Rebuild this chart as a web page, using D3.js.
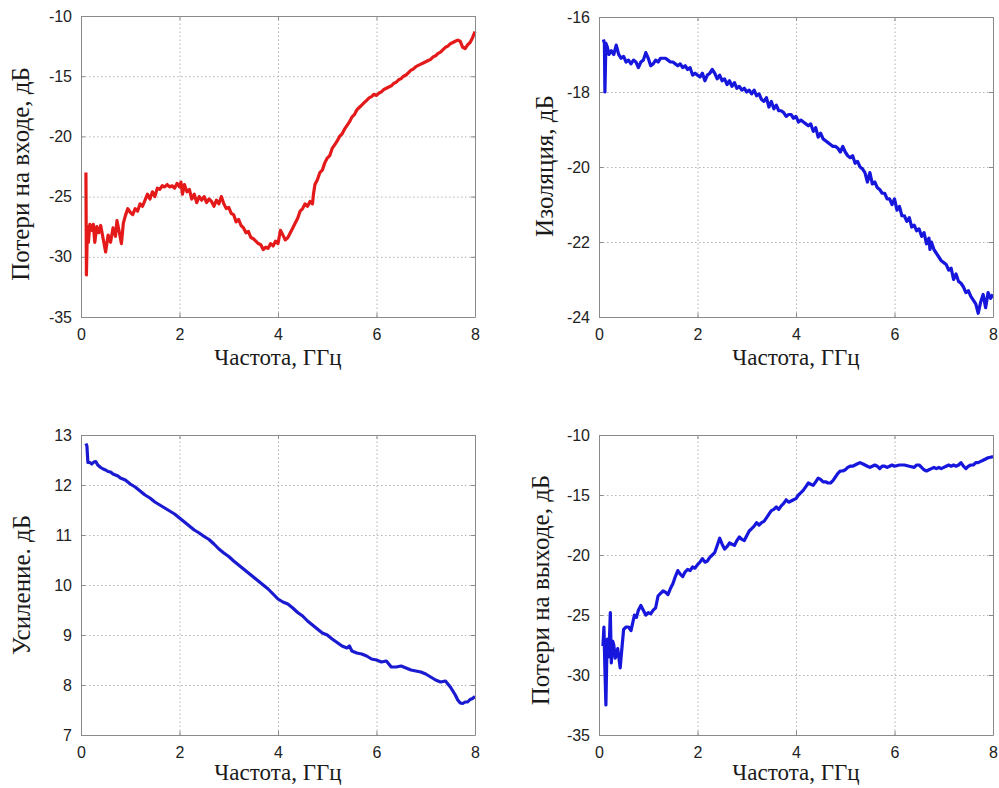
<!DOCTYPE html>
<html>
<head>
<meta charset="utf-8">
<script src="https://cdn.jsdelivr.net/npm/d3@7"></script>
<style>
body { margin: 0; background: #fff; }
.tick text { font-family: "Liberation Sans", Arial, sans-serif; font-size: 16px; fill: #222; }
.grid line { stroke: #b4b4b4; stroke-dasharray: 1.5,2.5; }
.grid path { display: none; }
.axlabel { font-family: "Liberation Serif", "Times New Roman", serif; fill: #1a1a1a; }
</style>
</head>
<body>
<div id="target"></div>
<script>
var width = 999,
    height = 788;

var xTicks = [0, 2, 4, 6, 8];
var xLabel = "Частота, ГГц";

// [частота, дБ]
var inputLoss = [
  [0.10,-23.0],[0.11,-31.5],[0.13,-27.5],[0.15,-28.8],[0.18,-27.3],[0.22,-27.8],[0.25,-27.3],[0.28,-28.8],
  [0.32,-27.5],[0.36,-28.0],[0.40,-27.4],[0.45,-28.5],[0.50,-29.6],[0.55,-28.2],[0.60,-28.8],[0.65,-27.6],
  [0.70,-28.3],[0.73,-27.0],[0.78,-28.0],[0.82,-28.9],[0.86,-27.2],[0.90,-26.6],[0.95,-26.0],[1.00,-26.3],
  [1.05,-26.5],[1.10,-26.0],[1.15,-26.2],[1.20,-25.6],[1.25,-25.8],[1.30,-25.3],[1.35,-24.8],[1.40,-25.2],
  [1.45,-24.6],[1.50,-25.0],[1.55,-24.3],[1.60,-24.4],[1.65,-24.1],[1.70,-24.2],[1.75,-24.0],[1.80,-24.2],
  [1.85,-24.1],[1.90,-24.3],[1.95,-23.9],[2.00,-24.2],[2.03,-23.8],[2.06,-24.8],[2.10,-24.0],[2.15,-24.6],
  [2.20,-24.4],[2.25,-25.2],[2.30,-24.8],[2.35,-25.5],[2.40,-25.0],[2.45,-25.3],[2.50,-25.0],[2.55,-25.5],
  [2.60,-25.2],[2.65,-25.4],[2.70,-25.8],[2.75,-25.3],[2.80,-25.6],[2.85,-25.0],[2.90,-25.6],[2.95,-26.0],
  [3.00,-25.9],[3.05,-26.4],[3.10,-26.5],[3.15,-27.1],[3.20,-26.9],[3.25,-27.4],[3.30,-27.6],[3.35,-28.0],
  [3.40,-27.9],[3.45,-28.4],[3.50,-28.5],[3.55,-28.7],[3.60,-28.9],[3.65,-29.0],[3.70,-29.4],[3.75,-29.2],
  [3.80,-29.3],[3.85,-28.9],[3.90,-29.1],[3.95,-28.7],[4.00,-28.9],[4.05,-27.8],[4.10,-28.2],[4.15,-28.6],
  [4.20,-28.4],[4.25,-28.0],[4.30,-27.6],[4.35,-27.2],[4.40,-26.8],[4.45,-26.2],[4.50,-26.0],[4.55,-25.6],
  [4.60,-25.8],[4.65,-25.4],[4.70,-25.6],[4.72,-24.8],[4.75,-24.0],[4.80,-23.6],[4.85,-23.0],[4.90,-22.8],
  [4.95,-22.2],[5.00,-21.8],[5.05,-21.6],[5.10,-21.0],[5.15,-20.7],[5.20,-20.4],[5.25,-20.0],[5.30,-19.8],
  [5.35,-19.4],[5.40,-19.1],[5.45,-18.8],[5.50,-18.4],[5.55,-18.2],[5.60,-17.8],[5.65,-17.6],[5.70,-17.4],
  [5.75,-17.2],[5.80,-17.0],[5.85,-16.8],[5.90,-16.7],[5.95,-16.5],[6.00,-16.6],[6.05,-16.4],[6.10,-16.3],
  [6.15,-16.1],[6.20,-16.0],[6.25,-15.9],[6.30,-15.8],[6.35,-15.6],[6.40,-15.5],[6.45,-15.3],[6.50,-15.2],
  [6.55,-15.0],[6.60,-14.9],[6.65,-14.7],[6.70,-14.5],[6.75,-14.4],[6.80,-14.2],[6.85,-14.1],[6.90,-14.0],
  [6.95,-13.9],[7.00,-13.8],[7.05,-13.7],[7.10,-13.6],[7.15,-13.4],[7.20,-13.3],[7.25,-13.1],[7.30,-13.0],
  [7.35,-12.8],[7.40,-12.6],[7.45,-12.5],[7.50,-12.3],[7.55,-12.2],[7.60,-12.1],[7.65,-12.0],[7.70,-12.1],
  [7.75,-12.6],[7.80,-12.7],[7.85,-12.4],[7.90,-12.2],[7.95,-11.8],[8.00,-11.3]
];

var isolation = [
  [0.09,-16.6],[0.11,-16.7],[0.12,-18.0],[0.14,-16.7],[0.17,-16.8],[0.20,-17.0],[0.25,-16.9],[0.30,-17.0],
  [0.35,-16.75],[0.40,-17.0],[0.45,-17.1],[0.50,-17.05],[0.55,-17.2],[0.60,-17.15],[0.65,-17.25],[0.70,-17.15],
  [0.75,-17.2],[0.80,-17.35],[0.85,-17.2],[0.90,-17.15],[0.95,-16.95],[1.00,-17.1],[1.05,-17.3],[1.10,-17.25],
  [1.15,-17.15],[1.20,-17.2],[1.25,-17.1],[1.30,-17.1],[1.35,-17.1],[1.40,-17.15],[1.45,-17.2],[1.50,-17.2],
  [1.55,-17.25],[1.60,-17.3],[1.65,-17.25],[1.70,-17.35],[1.75,-17.3],[1.80,-17.4],[1.85,-17.35],[1.90,-17.55],
  [1.95,-17.5],[2.00,-17.55],[2.05,-17.6],[2.10,-17.5],[2.15,-17.7],[2.20,-17.55],[2.25,-17.5],[2.30,-17.4],
  [2.35,-17.5],[2.40,-17.65],[2.45,-17.55],[2.50,-17.7],[2.55,-17.65],[2.60,-17.8],[2.65,-17.7],[2.70,-17.85],
  [2.75,-17.75],[2.80,-17.9],[2.85,-17.85],[2.90,-17.95],[2.95,-17.9],[3.00,-18.0],[3.05,-17.95],[3.10,-18.05],
  [3.15,-17.95],[3.20,-18.1],[3.25,-18.05],[3.30,-18.2],[3.35,-18.25],[3.40,-18.15],[3.45,-18.4],[3.50,-18.25],
  [3.55,-18.45],[3.60,-18.35],[3.65,-18.5],[3.70,-18.5],[3.75,-18.55],[3.80,-18.65],[3.85,-18.6],[3.90,-18.6],
  [3.95,-18.7],[4.00,-18.65],[4.05,-18.8],[4.10,-18.75],[4.15,-18.8],[4.20,-18.85],[4.25,-18.9],[4.30,-18.85],
  [4.35,-19.05],[4.40,-18.95],[4.45,-19.2],[4.50,-19.1],[4.55,-19.25],[4.60,-19.3],[4.65,-19.35],[4.70,-19.4],
  [4.75,-19.45],[4.80,-19.45],[4.85,-19.5],[4.90,-19.6],[4.95,-19.45],[5.00,-19.6],[5.05,-19.7],[5.10,-19.75],
  [5.15,-19.7],[5.20,-19.9],[5.25,-19.85],[5.30,-20.0],[5.35,-20.05],[5.40,-20.15],[5.45,-20.4],[5.50,-20.15],
  [5.55,-20.45],[5.60,-20.4],[5.65,-20.55],[5.70,-20.6],[5.75,-20.7],[5.80,-20.7],[5.85,-20.85],[5.90,-20.85],
  [5.95,-21.0],[6.00,-20.85],[6.05,-21.15],[6.10,-21.05],[6.15,-21.3],[6.20,-21.3],[6.25,-21.45],[6.30,-21.35],
  [6.35,-21.6],[6.40,-21.55],[6.45,-21.7],[6.50,-21.65],[6.55,-21.85],[6.60,-21.75],[6.65,-22.05],[6.70,-21.9],
  [6.72,-22.2],[6.75,-22.0],[6.80,-22.2],[6.85,-22.3],[6.90,-22.4],[6.95,-22.5],[7.00,-22.55],[7.05,-22.6],
  [7.10,-22.75],[7.15,-22.7],[7.20,-23.0],[7.25,-22.85],[7.30,-23.05],[7.35,-23.1],[7.40,-23.2],[7.45,-23.35],
  [7.50,-23.3],[7.55,-23.45],[7.60,-23.55],[7.65,-23.65],[7.70,-23.9],[7.75,-23.6],[7.80,-23.4],[7.85,-23.75],
  [7.90,-23.35],[7.95,-23.5],[8.00,-23.4]
];

var gain = [
  [0.10,12.83],[0.12,12.78],[0.14,12.45],[0.18,12.45],[0.22,12.42],[0.26,12.46],[0.30,12.47],[0.34,12.40],
  [0.40,12.35],[0.45,12.32],[0.50,12.30],[0.55,12.27],[0.60,12.26],[0.65,12.22],[0.70,12.20],[0.75,12.18],
  [0.80,12.14],[0.85,12.12],[0.90,12.10],[0.95,12.06],[1.00,12.02],[1.10,11.96],[1.20,11.88],[1.30,11.80],
  [1.40,11.74],[1.50,11.66],[1.60,11.60],[1.70,11.54],[1.80,11.48],[1.90,11.42],[2.00,11.34],[2.10,11.26],
  [2.20,11.18],[2.30,11.10],[2.40,11.04],[2.50,10.97],[2.60,10.91],[2.70,10.82],[2.80,10.72],[2.90,10.64],
  [3.00,10.57],[3.10,10.48],[3.20,10.40],[3.30,10.32],[3.40,10.24],[3.50,10.16],[3.60,10.08],[3.70,10.00],
  [3.80,9.92],[3.90,9.82],[4.00,9.72],[4.10,9.66],[4.20,9.62],[4.30,9.54],[4.40,9.45],[4.50,9.38],
  [4.60,9.28],[4.70,9.20],[4.80,9.12],[4.90,9.04],[5.00,9.00],[5.05,8.96],[5.10,8.92],[5.20,8.85],
  [5.30,8.78],[5.40,8.74],[5.45,8.78],[5.50,8.68],[5.60,8.64],[5.70,8.62],[5.80,8.58],[5.90,8.52],
  [6.00,8.50],[6.10,8.46],[6.20,8.48],[6.30,8.36],[6.40,8.36],[6.50,8.38],[6.60,8.34],[6.70,8.30],
  [6.80,8.28],[6.90,8.26],[7.00,8.22],[7.10,8.16],[7.20,8.10],[7.30,8.06],[7.40,8.08],[7.50,7.96],
  [7.60,7.80],[7.65,7.70],[7.70,7.64],[7.75,7.63],[7.80,7.66],[7.85,7.66],[7.90,7.71],[7.95,7.73],[8.00,7.77]
];

var outputLoss = [
  [0.08,-27.6],[0.10,-26.0],[0.12,-29.5],[0.14,-32.5],[0.16,-28.0],[0.17,-27.0],[0.20,-28.5],[0.23,-24.8],
  [0.25,-29.0],[0.28,-27.2],[0.30,-27.5],[0.33,-28.6],[0.35,-28.3],[0.38,-27.8],[0.43,-29.4],[0.46,-28.0],
  [0.50,-26.2],[0.55,-26.0],[0.60,-26.0],[0.65,-26.3],[0.72,-25.0],[0.76,-25.2],[0.80,-24.6],[0.85,-24.2],
  [0.90,-24.6],[0.95,-25.0],[1.00,-24.8],[1.05,-24.9],[1.10,-24.6],[1.15,-24.4],[1.20,-23.4],[1.25,-23.2],
  [1.30,-23.0],[1.35,-23.1],[1.40,-23.3],[1.45,-22.8],[1.50,-22.4],[1.55,-21.8],[1.60,-21.3],[1.65,-21.6],
  [1.70,-21.8],[1.75,-21.4],[1.80,-21.2],[1.85,-21.3],[1.90,-21.0],[1.95,-21.1],[2.00,-20.8],[2.05,-20.6],
  [2.10,-20.3],[2.15,-20.6],[2.20,-20.5],[2.25,-20.2],[2.30,-20.0],[2.35,-19.8],[2.40,-19.2],[2.45,-18.6],
  [2.50,-19.1],[2.55,-19.5],[2.60,-19.3],[2.65,-19.0],[2.70,-19.1],[2.75,-19.2],[2.80,-18.8],[2.85,-18.5],
  [2.90,-18.7],[2.95,-18.8],[3.00,-18.4],[3.05,-18.0],[3.10,-17.8],[3.15,-17.6],[3.20,-17.3],[3.25,-17.5],
  [3.30,-17.3],[3.35,-17.2],[3.40,-16.9],[3.45,-16.6],[3.50,-16.3],[3.55,-16.2],[3.60,-16.0],[3.65,-16.2],
  [3.70,-15.9],[3.75,-15.7],[3.80,-15.4],[3.85,-15.6],[3.90,-15.5],[3.95,-15.4],[4.00,-15.3],[4.05,-15.0],
  [4.10,-14.8],[4.15,-14.6],[4.20,-14.3],[4.25,-14.0],[4.30,-14.1],[4.35,-14.2],[4.40,-13.9],[4.45,-13.6],
  [4.50,-13.7],[4.55,-13.9],[4.60,-13.9],[4.65,-14.0],[4.70,-14.0],[4.75,-13.8],[4.80,-13.5],[4.85,-13.2],
  [4.90,-13.0],[4.95,-13.0],[5.00,-12.9],[5.05,-12.7],[5.10,-12.6],[5.15,-12.6],[5.20,-12.5],[5.25,-12.4],
  [5.30,-12.3],[5.35,-12.4],[5.40,-12.5],[5.45,-12.6],[5.50,-12.7],[5.55,-12.6],[5.60,-12.5],[5.65,-12.6],
  [5.70,-12.8],[5.75,-12.6],[5.80,-12.6],[5.85,-12.7],[5.90,-12.6],[5.95,-12.5],[6.00,-12.6],[6.10,-12.5],
  [6.20,-12.5],[6.30,-12.6],[6.40,-12.7],[6.45,-12.5],[6.50,-12.5],[6.55,-12.7],[6.60,-12.9],[6.65,-13.0],
  [6.70,-12.9],[6.75,-12.8],[6.80,-12.7],[6.85,-12.8],[6.90,-12.7],[6.95,-12.8],[7.00,-12.7],[7.05,-12.6],
  [7.10,-12.5],[7.15,-12.6],[7.20,-12.5],[7.25,-12.6],[7.30,-12.5],[7.35,-12.3],[7.40,-12.6],[7.45,-12.8],
  [7.50,-12.6],[7.55,-12.5],[7.60,-12.5],[7.65,-12.3],[7.70,-12.3],[7.75,-12.2],[7.80,-12.1],[7.85,-12.0],
  [7.90,-11.9],[7.95,-11.85],[8.00,-11.8]
];

var yTicks1 = [-35, -30, -25, -20, -15, -10];
var yTicks2 = [-24, -22, -20, -18, -16];
var yTicks3 = [7, 8, 9, 10, 11, 12, 13];
var yTicks4 = [-35, -30, -25, -20, -15, -10];

var panels = [
  {left: 81, top: 16, w: 394, h: 301, data: inputLoss, yDomain: [-35, -10], yTicks: yTicks1,
   color: '#e41a1a', yLabel: 'Потери на входе, дБ', yLabelX: 29, yLabelY: 174, xLabelDy: 48},
  {left: 599, top: 17, w: 394, h: 300, data: isolation, yDomain: [-24, -16], yTicks: yTicks2,
   color: '#1616dc', yLabel: 'Изоляция, дБ', yLabelX: 553, yLabelY: 166, xLabelDy: 48},
  {left: 81, top: 435, w: 394, h: 300, data: gain, yDomain: [7, 13], yTicks: yTicks3,
   color: '#1a1ad0', yLabel: 'Усиление. дБ', yLabelX: 30, yLabelY: 585, xLabelDy: 45},
  {left: 599, top: 435, w: 394, h: 300, data: outputLoss, yDomain: [-35, -10], yTicks: yTicks4,
   color: '#1616dc', yLabel: 'Потери на выходе, дБ', yLabelX: 549, yLabelY: 590, xLabelDy: 45}
];

var svg = d3.select('#target').append('svg')
    .attr('width', width)
    .attr('height', height);

// plain hyphen for minus, like the original
var fmt = function (d) { return String(d); };

panels.forEach(function (p) {
    var x = d3.scaleLinear().domain([0, 8]).range([0, p.w]);
    var y = d3.scaleLinear().domain(p.yDomain).range([p.h, 0]);

    var g = svg.append('g').attr('transform', 'translate(' + p.left + ',' + p.top + ')');

    // dotted grid
    g.append('g').attr('class', 'grid')
        .attr('transform', 'translate(0,' + p.h + ')')
        .call(d3.axisBottom(x).tickValues(xTicks).tickSize(-p.h).tickFormat(''));
    g.append('g').attr('class', 'grid')
        .call(d3.axisLeft(y).tickValues(p.yTicks).tickSize(-p.w).tickFormat(''));

    var line = d3.line()
        .x(function (d) { return x(d[0]); })
        .y(function (d) { return y(d[1]); });

    g.append('path')
        .datum(p.data)
        .attr('d', line)
        .attr('fill', 'none')
        .attr('stroke', p.color)
        .attr('stroke-width', 3.2)
        .attr('stroke-linejoin', 'round');

    // axes, matlab style: ticks inward on all sides
    var xb = g.append('g').attr('transform', 'translate(0,' + p.h + ')')
        .call(d3.axisBottom(x).tickValues(xTicks).tickFormat(fmt).tickSizeInner(-4).tickSizeOuter(0).tickPadding(12));
    var yl = g.append('g')
        .call(d3.axisLeft(y).tickValues(p.yTicks).tickFormat(fmt).tickSizeInner(-4).tickSizeOuter(0).tickPadding(9));
    var xt = g.append('g')
        .call(d3.axisTop(x).tickValues(xTicks).tickSizeInner(-4).tickSizeOuter(0).tickFormat(''));
    var yr = g.append('g').attr('transform', 'translate(' + p.w + ',0)')
        .call(d3.axisRight(y).tickValues(p.yTicks).tickSizeInner(-4).tickSizeOuter(0).tickFormat(''));
    [xb, yl, xt, yr].forEach(function (a) {
        a.selectAll('path').attr('stroke', '#8a8a8a');
        a.selectAll('line').attr('stroke', '#8a8a8a');
    });

    g.append('text')
        .attr('class', 'axlabel')
        .attr('x', p.w / 2)
        .attr('y', p.h + p.xLabelDy)
        .attr('text-anchor', 'middle')
        .style('font-size', '23px')
        .text(xLabel);

    svg.append('text')
        .attr('class', 'axlabel')
        .attr('transform', 'translate(' + p.yLabelX + ',' + p.yLabelY + ') rotate(-90)')
        .attr('text-anchor', 'middle')
        .style('font-size', '25px')
        .text(p.yLabel);
});
</script>
</body>
</html>
